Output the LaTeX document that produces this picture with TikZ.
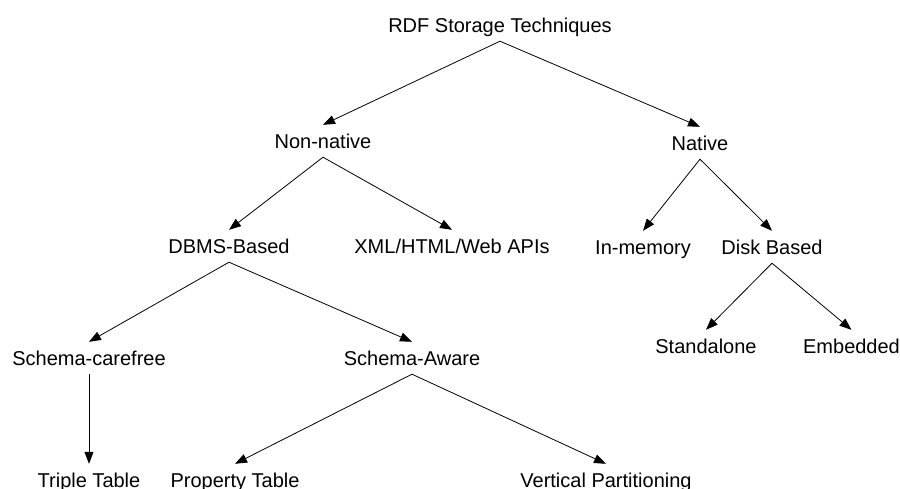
\documentclass[tikz,border=0pt]{standalone}
\usepackage{fontspec}
\setmainfont{Liberation Sans}
\usetikzlibrary{arrows.meta}
\begin{document}
\begin{tikzpicture}[x=1pt,y=-1pt,
  lbl/.style={anchor=base, font=\fontsize{20}{24}\selectfont, text height=14pt, text depth=0pt, inner xsep=0pt, inner ysep=9pt},
  arr/.style={draw=black, line width=0.8pt, -{Triangle[length=12pt,width=9pt]}}]
\useasboundingbox (0,0) rectangle (900,488);
\node[lbl] (rdf) at (500,32) {RDF Storage Techniques};
\node[lbl] (non) at (323,148) {Non-native};
\node[lbl] (nat) at (700,150) {Native};
\node[lbl] (dbms) at (229,253) {DBMS-Based};
\node[lbl] (xml) at (452,253) {XML/HTML/Web APIs};
\node[lbl] (inm) at (643,254) {In-memory};
\node[lbl] (disk) at (772,254) {Disk Based};
\node[lbl] (scf) at (89,365) {Schema-carefree};
\node[lbl] (saw) at (412,365) {Schema-Aware};
\node[lbl] (sta) at (706,353) {Standalone};
\node[lbl] (emb) at (851.5,353) {Embedded};
\node[lbl] (tri) at (89,487) {Triple Table};
\node[lbl] (pro) at (235,487) {Property Table};
\node[lbl] (ver) at (606,487) {Vertical Partitioning};
\draw[arr] (rdf.south) -- (non.north);
\draw[arr] (rdf.south) -- (nat.north);
\draw[arr] (non.south) -- (dbms.north);
\draw[arr] (non.south) -- (xml.north);
\draw[arr] (nat.south) -- (inm.north);
\draw[arr] (nat.south) -- (disk.north);
\draw[arr] (dbms.south) -- (scf.north);
\draw[arr] (dbms.south) -- (saw.north);
\draw[arr] (disk.south) -- (sta.north);
\draw[arr] (disk.south) -- (emb.north);
\draw[arr] (scf.south) -- (tri.north);
\draw[arr] (saw.south) -- (pro.north);
\draw[arr] (saw.south) -- (ver.north);
\end{tikzpicture}
\end{document}
